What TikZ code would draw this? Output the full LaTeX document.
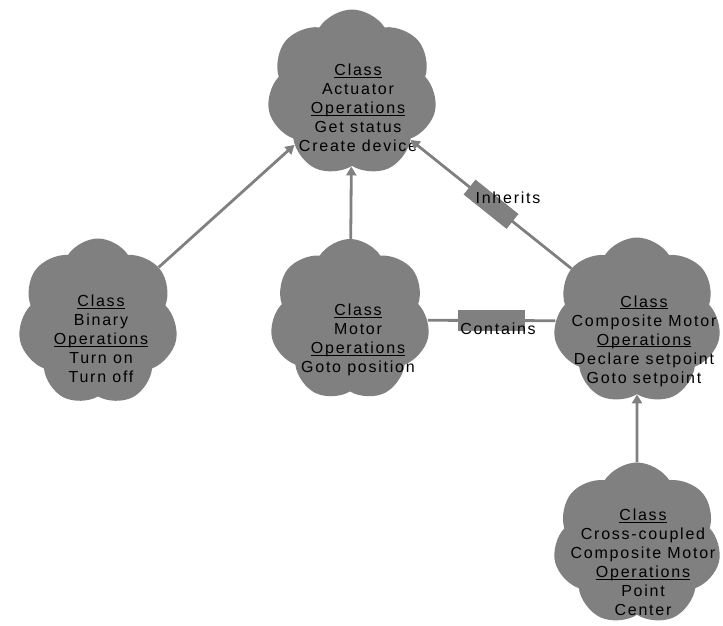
\documentclass[tikz,border=0pt]{standalone}
\usepackage{fontspec}
\setmainfont{Liberation Sans}[LetterSpace=11]
\usetikzlibrary{shapes.symbols,arrows.meta}

\definecolor{blobgray}{RGB}{128,128,128}

% underline set at a fixed distance below the baseline
\newcommand\headword[1]{\setbox0\hbox{#1}\rlap{\rule[-2.2pt]{\wd0}{0.9pt}}\box0}

\tikzset{
  blob/.style={shape=cloud, cloud puffs=7, cloud puff arc=115, aspect=1,
    fill=blobgray, draw=none, inner sep=0pt,
    minimum width=#1},
  classtext/.style={align=center, text=black, inner sep=0pt,
    font=\fontsize{16}{19}\selectfont},
  link/.style={draw=blobgray, line width=2.8pt},
  arrowlink/.style={link, -{Triangle[length=9pt,width=10pt]}},
  tagbox/.style={fill=blobgray, inner sep=0pt},
  tagtext/.style={text=black, inner sep=0pt, font=\fontsize{16}{19}\selectfont}
}

\begin{document}
\begin{tikzpicture}[x=1pt, y=-1pt]
\useasboundingbox (0,0) rectangle (723,625);

% cloud-shaped class symbols
\node[blob=170, minimum height=167] (actuator)  at (352,93)  {};
\node[blob=160, minimum height=167] (binary)    at (98,322)  {};
\node[blob=160, minimum height=162] (motor)     at (350,320) {};
\node[blob=168, minimum height=167] (composite) at (637,321) {};
\node[blob=168, minimum height=163] (crossed)   at (637,544) {};

% class names and operations
\node[classtext] (actuatorText) at (358,108)
  {\headword{Class}\\Actuator\\\headword{Operations}\\Get status\\Create device};
\node[classtext] (binaryText) at (101,339)
  {\headword{Class}\\Binary\\\headword{Operations}\\Turn on\\Turn off};
\node[classtext] (motorText) at (358,340)
  {\headword{Class}\\Motor\\\headword{Operations}\\Goto position};
\node[classtext] (compositeText) at (644,341)
  {\headword{Class}\\Composite Motor\\\headword{Operations}\\Declare setpoint\\Goto setpoint};
\node[classtext] (crossedText) at (643,562)
  {\headword{Class}\\Cross-coupled\\Composite Motor\\\headword{Operations}\\Point\\Center};

% generalisation arrows
\draw[arrowlink] (binary) -- (actuator);
\draw[arrowlink] (motor) -- (actuator);
\draw[arrowlink] (crossed) -- (composite);
\draw[arrowlink] (composite) -- node[tagbox, sloped, minimum width=55pt, minimum height=19pt] (inheritsBox) {} (actuator);

% aggregation link
\draw[link] (motor) -- node[tagbox, minimum width=67pt, minimum height=21pt] (containsBox) {} (composite);

% relation labels
\node[tagtext] (inheritsText) at (508,198) {Inherits};
\node[tagtext] (containsText) at (498,329) {Contains};
\end{tikzpicture}
\end{document}
